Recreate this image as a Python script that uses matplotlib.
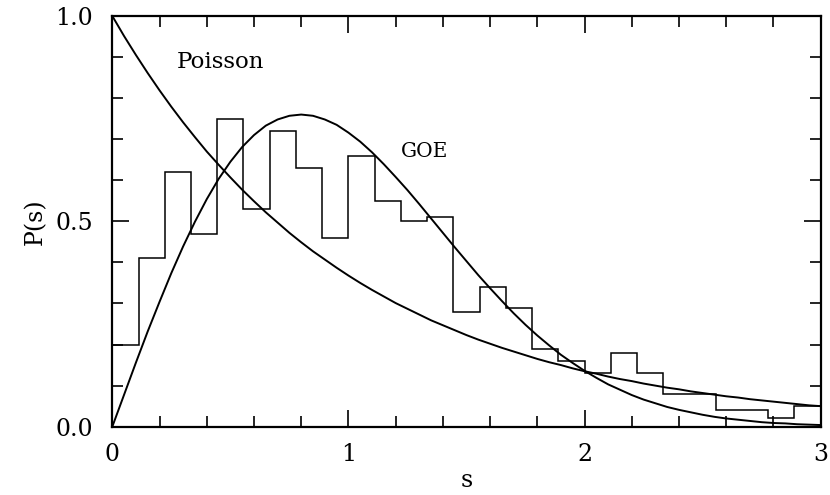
import numpy as np
import matplotlib.pyplot as plt
from matplotlib.ticker import MultipleLocator

# level spacing histogram, 27 bins of width 1/9 on [0, 3]
bin_edges = np.linspace(0, 3, 28)
hist_heights = [0.20, 0.41, 0.62, 0.47, 0.75, 0.53, 0.72, 0.63, 0.46,
                0.66, 0.55, 0.50, 0.51, 0.28, 0.34, 0.29, 0.19, 0.16,
                0.13, 0.18, 0.13, 0.08, 0.08, 0.04, 0.04, 0.02, 0.05]

# reference curves sampled every 0.05 in s
s_vals = np.round(np.arange(0, 3.001, 0.05), 2)
poisson = [1.000, 0.951, 0.905, 0.861, 0.819, 0.779, 0.741, 0.705, 0.670, 0.638,
           0.607, 0.577, 0.549, 0.522, 0.497, 0.472, 0.449, 0.427, 0.407, 0.387,
           0.368, 0.350, 0.333, 0.317, 0.301, 0.287, 0.273, 0.259, 0.247, 0.235,
           0.223, 0.212, 0.202, 0.192, 0.183, 0.174, 0.165, 0.157, 0.150, 0.142,
           0.135, 0.129, 0.122, 0.116, 0.111, 0.105, 0.100, 0.095, 0.091, 0.086,
           0.082, 0.078, 0.074, 0.071, 0.067, 0.064, 0.061, 0.058, 0.055, 0.052,
           0.050]
goe = [0.000, 0.078, 0.156, 0.232, 0.304, 0.374, 0.439, 0.499, 0.554, 0.603,
       0.645, 0.681, 0.710, 0.733, 0.748, 0.757, 0.760, 0.757, 0.748, 0.735,
       0.716, 0.694, 0.668, 0.639, 0.608, 0.576, 0.542, 0.507, 0.472, 0.437,
       0.403, 0.369, 0.337, 0.306, 0.276, 0.248, 0.222, 0.198, 0.175, 0.155,
       0.136, 0.119, 0.103, 0.090, 0.077, 0.066, 0.057, 0.048, 0.041, 0.035,
       0.029, 0.024, 0.020, 0.017, 0.014, 0.011, 0.009, 0.008, 0.006, 0.005,
       0.004]

plt.rcParams['font.family'] = 'DejaVu Serif'

fig = plt.figure(figsize=(8.3, 4.95), dpi=100)
ax = fig.add_axes([0.1353, 0.138, 0.8535, 0.8297])

ax.stairs(hist_heights, bin_edges, color='black', linewidth=1.1)
ax.plot(s_vals, poisson, color='black', linewidth=1.4)
ax.plot(s_vals, goe, color='black', linewidth=1.4)

ax.text(0.273, 0.873, 'Poisson', fontsize=16.5)
ax.text(1.221, 0.657, 'GOE', fontsize=14.5)

ax.set_xlim(0, 3)
ax.set_ylim(0, 1)
ax.xaxis.set_major_locator(MultipleLocator(1))
ax.xaxis.set_minor_locator(MultipleLocator(0.2))
ax.yaxis.set_major_locator(MultipleLocator(0.5))
ax.yaxis.set_minor_locator(MultipleLocator(0.1))
ax.yaxis.set_major_formatter(lambda v, pos: f'{v:.1f}')

ax.tick_params(which='both', direction='in', top=True, right=True,
               labelsize=17, width=1.2)
ax.tick_params(which='major', length=12)
ax.tick_params(which='minor', length=8)
ax.tick_params(axis='x', which='major', pad=12)
ax.tick_params(axis='y', which='major', pad=14)
for sp in ax.spines.values():
    sp.set_linewidth(1.6)

ax.set_xlabel('s', fontsize=17, labelpad=2)
ax.set_ylabel('P(s)', fontsize=17, labelpad=6)

fig.savefig('out.png', dpi=100)
